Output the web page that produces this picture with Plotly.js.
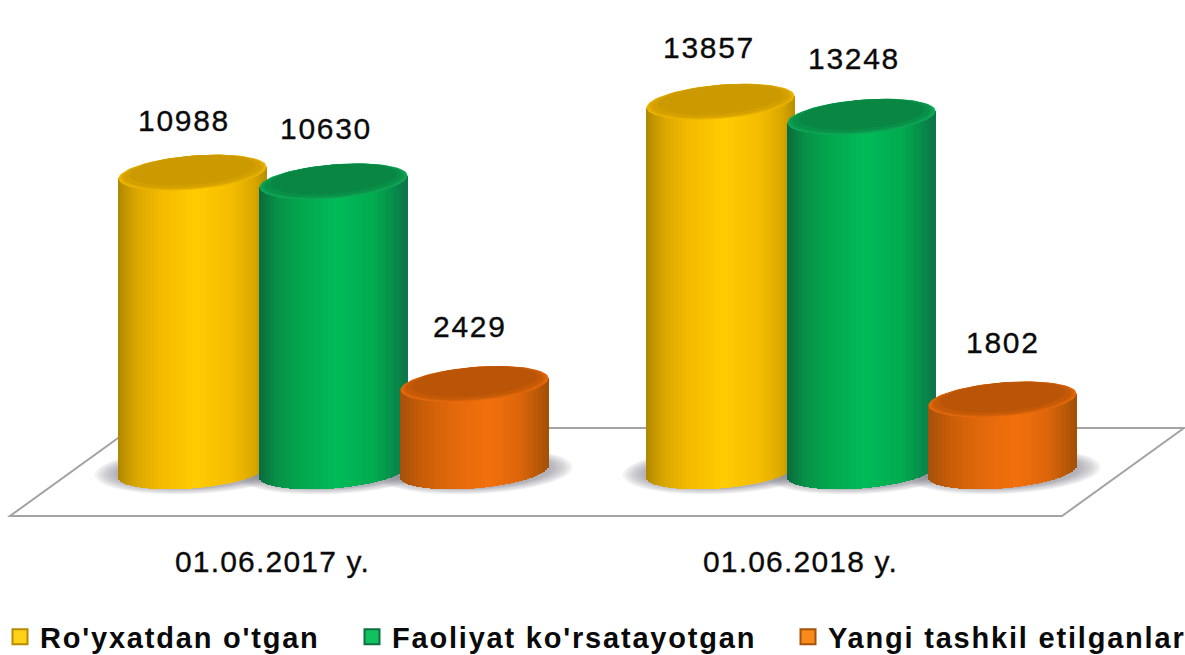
<!DOCTYPE html>
<html><head><meta charset="utf-8">
<script src="https://cdn.plot.ly/plotly-3.0.1.min.js"></script>
<style>html,body{margin:0;padding:0;background:#fff}#c{width:1185px;height:655px}
.annotation-text{letter-spacing:1.7px;stroke:#111;stroke-width:.35px}
.xtick text{letter-spacing:1.2px;stroke:#111;stroke-width:.35px}
.legendtext,.legend2text,.legend3text{letter-spacing:1.8px}
</style>
</head><body><div id="c"></div>
<script>
// ---- data ----
const categories = ["01.06.2017 y.", "01.06.2018 y."];
const seriesNames = ["Ro'yxatdan o'tgan", "Faoliyat ko'rsatayotgan", "Yangi tashkil etilganlar"];
const registered = [10988, 13857];
const active = [10630, 13248];
const newlyCreated = [2429, 1802];

// ---- style / geometry ----
const W = 1185, H = 655;
const xPerGroup = 528, group0Px = 333.5, seriesStep = 141, radius = 74;
const zeroPx = 444, pxPerValue = 0.0247, floorValue = -1093;
const tilt = 0.08, capB = 17, baseB = 17.5;
const STRIPS = 74;
const stops = [
  [[-1,'#b08800'],[-0.75,'#dca800'],[-0.4,'#f4bb00'],[0.05,'#ffcc00'],[0.55,'#f4bc00'],[0.85,'#d8a600'],[1,'#b88e00']],
  [[-1,'#0b6b3c'],[-0.75,'#079248'],[-0.4,'#03a84f'],[0.05,'#00bb58'],[0.55,'#02ab50'],[0.85,'#07884a'],[1,'#0f7448']],
  [[-1,'#a5520a'],[-0.7,'#c85d08'],[-0.3,'#e2680a'],[0.2,'#f3700c'],[0.6,'#de660a'],[0.85,'#bb5a08'],[1,'#a24f08']]
];
const capColors = [['#ecb500','#dda800','#d3a000','#cb9a00'],['#10a858','#0b9a4e','#099048','#088642'],['#e5690c','#d2610a','#c45a08','#ba5507']];
const legendColors = [['#ffd21a','#b88a00'],['#12c060','#0c7040'],['#f78a1a','#a5520a']];
const labelDx = [[-9,-12],[-8,-8],[-5,0]];
const labelDy = [[52.6,54.7],[53.4,57.8],[58,56.5]];
const tickDxPx = -61;
const legendTextPx = [0, 352, 788];
const legendRowPx = 637, axisPx = 541;

const allSeries = [registered, active, newlyCreated];
const hex = c => [1,3,5].map(i => parseInt(c.substr(i,2),16));
function shade(list,u){
  for(let i=0;i<list.length-1;i++){
    const [a,ca]=list[i],[b,cb]=list[i+1];
    if(u<=b){const t=(u-a)/(b-a),A=hex(ca),B=hex(cb);
      return 'rgb('+A.map((v,k)=>Math.round(v+(B[k]-v)*t)).join(',')+')';}
  }
  return list[list.length-1][1];
}
const xOf = (g,s,dpx=0) => g + ((s-1)*seriesStep+dpx)/xPerGroup;
const dv = px => px/pxPerValue;
const dx = px => px/xPerGroup;

const traces = [];
// cylinder bodies: bars, one thin strip per shading step
allSeries.forEach((vals,s)=>{
  const x=[],y=[],base=[],color=[];
  vals.forEach((v,g)=>{
    for(let i=0;i<STRIPS;i++){
      const u=-1+(2*i+1)/STRIPS, ox=u*radius, rt=Math.sqrt(1-u*u);
      const top=v+dv(tilt*ox);
      const bot=floorValue+dv(tilt*ox-baseB*rt);
      x.push(xOf(g,s,ox)); base.push(bot); y.push(top-bot); color.push(shade(stops[s],u));
    }
  });
  traces.push({type:'bar',x,y,base,width:dx(2*radius/STRIPS+0.6),marker:{color,line:{width:0}},
    name:seriesNames[s],showlegend:false,hoverinfo:'skip'});
});
// cylinder tops
allSeries.forEach((vals,s)=>{
  vals.forEach((v,g)=>{
    [1,0.97,0.93,0.85].forEach((k,layer)=>{
      const x=[],y=[],shift=capB*(1-k)*0.9;
      for(let i=0;i<=72;i++){
        const t=i/72*2*Math.PI, ox=k*radius*Math.cos(t);
        x.push(xOf(g,s,ox));
        y.push(v+dv(tilt*ox+k*capB*Math.sin(t)+shift));
      }
      traces.push({type:'scatter',mode:'lines',x,y,fill:'toself',fillcolor:capColors[s][layer],
        line:{width:0,color:capColors[s][layer]},showlegend:false,hoverinfo:'skip'});
    });
  });
});
// legend entries, each placed in its own legend
seriesNames.forEach((n,s)=>{
  traces.push({type:'scatter',mode:'markers',x:[null],y:[null],name:n,hoverinfo:'skip',
    legend:s===0?'legend':'legend'+(s+1),showlegend:true,
    marker:{symbol:'square',size:15,color:legendColors[s][0],line:{width:2,color:legendColors[s][1]}}});
});

// floor + shadows
const X0=-group0Px/xPerGroup;
const pxX = p => X0 + p/xPerGroup;
const pxY = p => (zeroPx-p)/pxPerValue;
const floorPts=[[10,516],[1062,516],[1184,428],[132,428]];
const shapes=[{type:'path',layer:'below',xref:'x',yref:'y',
  path:'M'+floorPts.map(p=>pxX(p[0])+','+pxY(p[1])).join('L')+'Z',
  fillcolor:'#ffffff',line:{color:'#a3a3a3',width:2}}];
[0,1].forEach(g=>{
  [0,1,2].forEach(s=>{
    [[24,23],[21,22],[18,21],[15,20],[12,19],[9,18.5],[6,18],[3,18]].forEach(([ex,ey])=>{
      const pts=[];
      for(let i=0;i<48;i++){
        const t=i/48*2*Math.PI;
        const ox=(radius+ex)*Math.cos(t);
        pts.push((xOf(g,s,ox))+','+(floorValue+dv(tilt*ox*0.5+ey*Math.sin(t))));
      }
      shapes.push({type:'path',layer:'below',xref:'x',yref:'y',path:'M'+pts.join('L')+'Z',
        fillcolor:'#80808c',opacity:0.1,line:{width:0}});
    });
  });
});

const annotations=[];
allSeries.forEach((vals,s)=>vals.forEach((v,g)=>{
  annotations.push({x:xOf(g,s,labelDx[s][g]),y:v,yshift:labelDy[s][g],text:String(v),showarrow:false,
    xanchor:'center',yanchor:'middle',font:{family:'Liberation Sans',size:30,color:'#0a0a0a'}});
}));

const legendBase = px => ({orientation:'h',x:px/W,xref:'container',xanchor:'left',
  y:(H-legendRowPx)/H,yref:'container',yanchor:'middle',
  font:{family:'Liberation Sans',size:29,color:'#0a0a0a',weight:700},
  bgcolor:'rgba(0,0,0,0)',itemclick:false,itemdoubleclick:false});

const layout={
  width:W,height:H,paper_bgcolor:'#fff',plot_bgcolor:'rgba(0,0,0,0)',
  margin:{l:0,r:0,t:0,b:0,pad:0,autoexpand:false},
  barmode:'overlay',bargap:0,showlegend:true,hovermode:false,
  xaxis:{range:[X0,X0+W/xPerGroup],tickmode:'array',anchor:'free',position:(H-axisPx)/H,
    tickvals:categories.map((c,g)=>g+tickDxPx/xPerGroup),ticktext:categories,
    ticks:'',showgrid:false,zeroline:false,showline:false,
    tickfont:{family:'Liberation Sans',size:30,color:'#0a0a0a'}},
  yaxis:{range:[(zeroPx-H)/pxPerValue,zeroPx/pxPerValue],visible:false,showgrid:false,zeroline:false},
  legend:legendBase(legendTextPx[0]),legend2:legendBase(legendTextPx[1]),legend3:legendBase(legendTextPx[2]),
  shapes,annotations
};
Plotly.newPlot('c',traces,layout,{displayModeBar:false,staticPlot:true});
</script></body></html>
